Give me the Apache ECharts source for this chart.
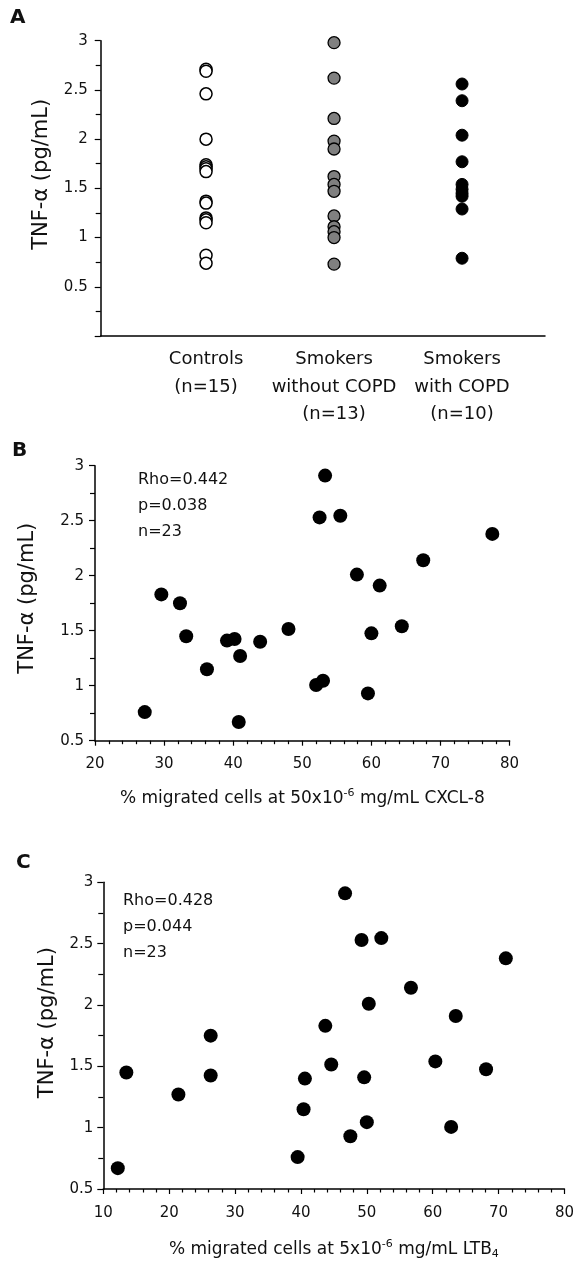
<!DOCTYPE html>
<html>
<head>
<meta charset="utf-8">
<script src="https://cdn.jsdelivr.net/npm/echarts@6.0.0/dist/echarts.min.js"></script>
<style>
html,body{margin:0;padding:0;background:#fff;}
#chart{width:577px;height:1261px;}
</style>
</head>
<body>
<div id="chart"></div>
<script>
// ---------- Data ----------
const groupLabels = ['Controls\n(n=15)', 'Smokers\nwithout COPD\n(n=13)', 'Smokers\nwith COPD\n(n=10)'];
const controlsTNF = [2.71, 2.69, 2.46, 2.00, 1.74, 1.72, 1.70, 1.67, 1.37, 1.35, 1.20, 1.18, 1.15, 0.82, 0.74];
const smokersNoCopdTNF = [2.98, 2.62, 2.21, 1.98, 1.90, 1.62, 1.54, 1.47, 1.22, 1.11, 1.06, 1.00, 0.73];
const smokersCopdTNF = [2.56, 2.39, 2.04, 1.77, 1.54, 1.49, 1.45, 1.42, 1.29, 0.79];

const cxcl8Migration = [53.3, 52.5, 55.5, 77.5, 67.5, 57.9, 61.2, 29.6, 32.3, 33.2, 64.4, 48.0, 60.0, 39.1, 40.2, 43.9, 41.0, 36.2, 52.0, 53.0, 59.5, 27.2, 40.8];
const tnfB = [2.91, 2.53, 2.545, 2.38, 2.14, 2.01, 1.91, 1.83, 1.75, 1.45, 1.54, 1.515, 1.476, 1.41, 1.424, 1.40, 1.27, 1.15, 1.006, 1.045, 0.93, 0.76, 0.67];

const ltb4Migration = [46.7, 49.2, 52.2, 71.1, 56.7, 50.3, 63.5, 43.7, 26.3, 13.5, 26.3, 44.6, 60.4, 68.1, 40.6, 49.6, 21.4, 40.4, 50.0, 62.8, 47.5, 39.5, 12.2];
const tnfC = [2.91, 2.53, 2.545, 2.38, 2.14, 2.01, 1.91, 1.83, 1.75, 1.45, 1.425, 1.515, 1.54, 1.476, 1.40, 1.41, 1.27, 1.15, 1.045, 1.006, 0.93, 0.76, 0.67];

const statsB = ['Rho=0.442', 'p=0.038', 'n=23'];
const statsC = ['Rho=0.428', 'p=0.044', 'n=23'];
const yTitle = 'TNF-\u03b1 (pg/mL)';
const xTitleB = '% migrated cells at 50x10{sup|-6} mg/mL CXCL-8';
const xTitleC = '% migrated cells at 5x10{sup|-6} mg/mL LTB{sub|4}';

// ---------- Chart ----------
const FONT = '"DejaVu Sans", Verdana, sans-serif';
const INK = '#111';
function pairs(xs, ys) { return xs.map((x, i) => [x, ys[i]]); }
function groupPoints(idx, vals) { return vals.map(v => [idx, v]); }

const axisLine = { show: true, onZero: false, lineStyle: { color: '#000', width: 1.5 } };
const tickStyle = { color: '#000', width: 1.2 };
const richSub = {
  sup: { fontSize: 11, fontFamily: FONT, color: INK, verticalAlign: 'top', padding: [0, 0, 10, 0] },
  sub: { fontSize: 11, fontFamily: FONT, color: INK, verticalAlign: 'bottom', padding: [10, 0, 0, 0] }
};

function yAxisCfg(gridIndex, min, labelMargin, nameGap, hideZero, shiftUp) {
  return {
    type: 'value', gridIndex: gridIndex, min: min, max: 3, interval: 0.5,
    axisLine: axisLine,
    axisTick: { show: true, length: 6, lineStyle: tickStyle },
    minorTick: { show: true, splitNumber: 2, length: 5, lineStyle: tickStyle },
    splitLine: { show: false }, minorSplitLine: { show: false },
    axisLabel: {
      fontFamily: FONT, fontSize: 15, color: INK, margin: labelMargin,
      formatter: function (v) { return (hideZero && v === 0) ? '' : String(v); }
    },
    name: yTitle, nameLocation: 'middle', nameGap: nameGap,
    nameTextStyle: { fontFamily: FONT, fontSize: 21, color: INK, padding: [0, 0, 0, 2 * shiftUp] }
  };
}

function xAxisCfg(gridIndex, min, max, name, nameGap, labelMargin) {
  return {
    type: 'value', gridIndex: gridIndex, min: min, max: max, interval: 10,
    axisLine: axisLine,
    axisTick: { show: true, length: 5, lineStyle: tickStyle },
    minorTick: { show: true, splitNumber: 5, length: 3.5, lineStyle: tickStyle },
    splitLine: { show: false }, minorSplitLine: { show: false },
    axisLabel: { fontFamily: FONT, fontSize: 15, color: INK, margin: labelMargin },
    name: name, nameLocation: 'middle', nameGap: nameGap,
    nameTextStyle: { fontFamily: FONT, fontSize: 17, color: INK, rich: richSub }
  };
}

function scatter(xi, yi, data, size, fill, border, bw) {
  return {
    type: 'scatter', xAxisIndex: xi, yAxisIndex: yi, data: data,
    symbol: 'circle', symbolSize: size, silent: true,
    itemStyle: { color: fill, borderColor: border, borderWidth: bw, opacity: 1 }
  };
}

function title(text, left, top, size, weight, lh) {
  return {
    text: text, left: left, top: top, padding: 0,
    textStyle: { fontFamily: FONT, fontSize: size, fontWeight: weight, color: INK, lineHeight: lh }
  };
}

const option = {
  animation: false,
  backgroundColor: '#fff',
  title: [
    title('A', 10, 7, 20, 'bold', 22),
    title('B', 12, 440, 20, 'bold', 22),
    title('C', 16, 852, 20, 'bold', 22),
    title(statsB.join('\n'), 138, 467, 16, 'normal', 26),
    title(statsC.join('\n'), 123, 888, 16, 'normal', 26)
  ],
  grid: [
    { left: 100.7, top: 40.7, width: 444.3, height: 295.3, containLabel: false },
    { left: 95, top: 465.7, width: 414.6, height: 275, containLabel: false },
    { left: 103.3, top: 882.3, width: 461.7, height: 307.2, containLabel: false }
  ],
  xAxis: [
    {
      type: 'value', gridIndex: 0, min: -0.823, max: 2.648,
      axisLine: axisLine,
      axisTick: { show: false },
      splitLine: { show: false },
      axisLabel: {
        customValues: [0, 1, 2],
        fontFamily: FONT, fontSize: 18, color: INK, lineHeight: 27.5, margin: 10,
        formatter: function (v) { return groupLabels[Math.round(v)]; }
      }
    },
    xAxisCfg(1, 20, 80, xTitleB, 47, 16),
    xAxisCfg(2, 10, 80, xTitleC, 50, 17)
  ],
  yAxis: [
    yAxisCfg(0, 0, 13, 49, true, 14),
    yAxisCfg(1, 0.5, 11, 57, false, 5),
    yAxisCfg(2, 0.5, 10, 44, false, 13)
  ],
  series: [
    scatter(0, 0, groupPoints(0, controlsTNF), 12, '#ffffff', '#000', 1.5),
    scatter(0, 0, groupPoints(1, smokersNoCopdTNF), 12, '#808080', '#000', 1.3),
    scatter(0, 0, groupPoints(2, smokersCopdTNF), 12, '#000', '#000', 1),
    scatter(1, 1, pairs(cxcl8Migration, tnfB), 14, '#000', '#000', 0),
    scatter(2, 2, pairs(ltb4Migration, tnfC), 14, '#000', '#000', 0)
  ]
};

const chart = echarts.init(document.getElementById('chart'), null, { renderer: 'canvas' });
chart.setOption(option);
</script>
</body>
</html>
